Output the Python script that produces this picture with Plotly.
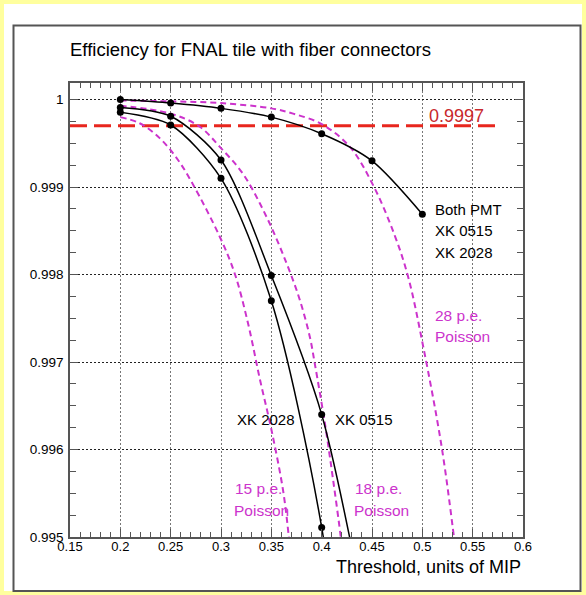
import plotly.graph_objects as go

# ---- data ----
thresholds = [0.20, 0.25, 0.30, 0.35, 0.40, 0.45, 0.50]
eff_both = [1.00000, 0.99996, 0.99990, 0.99980, 0.99961, 0.99930, 0.99869]
thr_single = [0.20, 0.25, 0.30, 0.35, 0.40, 0.45]
eff_xk0515 = [0.99991, 0.99981, 0.99931, 0.99799, 0.99640, 0.99370]
eff_xk2028 = [0.999855, 0.99971, 0.99910, 0.99770, 0.99511, 0.99050]

p15_x = [0.200, 0.2192, 0.2391, 0.2573, 0.2722, 0.2989, 0.3137, 0.3269, 0.3385, 0.3502, 0.3617, 0.3674, 0.3700]
p15_y = [0.99980, 0.99973, 0.99956, 0.99931, 0.99903, 0.99843, 0.99801, 0.99744, 0.99681, 0.99622, 0.99553, 0.99500, 0.99470]
p18_x = [0.200, 0.250, 0.2789, 0.2988, 0.3219, 0.3452, 0.3651, 0.3783, 0.3882, 0.3932, 0.4032, 0.4114, 0.4190, 0.4220]
p18_y = [0.99993, 0.99984, 0.99969, 0.99946, 0.99915, 0.99866, 0.99813, 0.99771, 0.99729, 0.99698, 0.99630, 0.99565, 0.99500, 0.99470]
p28_x = [0.200, 0.250, 0.300, 0.350, 0.3716, 0.400, 0.428, 0.4512, 0.4728, 0.486, 0.501, 0.5192, 0.5314, 0.5340]
p28_y = [0.99999, 0.99998, 0.99996, 0.99990, 0.99984, 0.99972, 0.99946, 0.99902, 0.99844, 0.99797, 0.99717, 0.99603, 0.99500, 0.99475]

ref_level = 0.9997
ref_x = [0.15, 0.577]

x_ticks = [0.15, 0.2, 0.25, 0.3, 0.35, 0.4, 0.45, 0.5, 0.55, 0.6]
x_tick_text = ["0.15", "0.2", "0.25", "0.3", "0.35", "0.4", "0.45", "0.5", "0.55", "0.6"]
y_ticks = [0.995, 0.996, 0.997, 0.998, 0.999, 1.0]
y_tick_text = ["0.995", "0.996", "0.997", "0.998", "0.999", "1"]

FONT = "Liberation Sans, Arial, Helvetica, sans-serif"
MAG = "#cc33cc"
RED = "#e8261e"

fig = go.Figure()

# reference level
fig.add_trace(go.Scatter(x=ref_x, y=[ref_level, ref_level], mode="lines",
                         line=dict(color=RED, width=3, dash="17px,7px"),
                         hoverinfo="skip", showlegend=False))

# Poisson curves
for px_, py_ in [(p15_x, p15_y), (p18_x, p18_y), (p28_x, p28_y)]:
    fig.add_trace(go.Scatter(x=px_, y=py_, mode="lines",
                             line=dict(color=MAG, width=2, dash="6px,4px", shape="spline", smoothing=1.0),
                             showlegend=False))

# measured curves
for xs, ys in [(thresholds, eff_both), (thr_single, eff_xk0515), (thr_single, eff_xk2028)]:
    fig.add_trace(go.Scatter(x=xs, y=ys, mode="lines+markers",
                             line=dict(color="black", width=1.5, shape="spline", smoothing=0.8),
                             marker=dict(color="black", size=7),
                             showlegend=False))

# page decoration (in paper coordinates of the plot area 70..523 x 83..537 px)
def px2paper_x(p):
    return (p - 70) / 453.0

def px2paper_y(p):
    return (537 - p) / 454.0

shapes = [
    dict(type="rect", xref="paper", yref="paper", layer="below",
         x0=px2paper_x(4), x1=px2paper_x(582), y0=px2paper_y(591), y1=px2paper_y(4),
         fillcolor="white", line=dict(width=0)),
    dict(type="rect", xref="paper", yref="paper", layer="below",
         x0=px2paper_x(13.5), x1=px2paper_x(580.5), y0=px2paper_y(591), y1=px2paper_y(25.5),
         fillcolor="white", line=dict(color="#555555", width=2)),
]

ann_font = dict(family=FONT, size=15, color="black")
mag_font = dict(family=FONT, size=15.5, color=MAG)
annotations = [
    dict(x=0.5106, y=0.99874, text="Both PMT", font=ann_font),
    dict(x=0.5106, y=0.99850, text="XK 0515", font=ann_font),
    dict(x=0.5106, y=0.99825, text="XK 2028", font=ann_font),
    dict(x=0.5105, y=0.997535, text="28 p.e.", font=mag_font),
    dict(x=0.5105, y=0.99729, text="Poisson", font=mag_font),
    dict(x=0.3117, y=0.99555, text="15 p.e.", font=mag_font),
    dict(x=0.3107, y=0.99530, text="Poisson", font=mag_font),
    dict(x=0.4313, y=0.99555, text="18 p.e.", font=mag_font),
    dict(x=0.4300, y=0.99530, text="Poisson", font=mag_font),
    dict(x=0.4108, y=0.99634, text="XK 0515", font=ann_font),
    dict(x=0.3756, y=0.99634, text="XK 2028", font=ann_font, xanchor="right"),
    dict(x=0.5050, y=0.99981, text="0.9997", font=dict(family=FONT, size=18, color="#c8282c")),
]
for a in annotations:
    a.setdefault("xanchor", "left")
    a.update(xref="x", yref="y", yanchor="middle", showarrow=False)

# title and axis title as paper annotations
annotations.append(dict(xref="paper", yref="paper", x=px2paper_x(68), y=px2paper_y(50),
                        xanchor="left", yanchor="middle", showarrow=False,
                        text="Efficiency for FNAL tile with fiber connectors",
                        font=dict(family=FONT, size=18.5, color="black")))
annotations.append(dict(xref="paper", yref="paper", x=1.0, y=px2paper_y(567),
                        xanchor="right", yanchor="middle", showarrow=False,
                        text="Threshold, units of MIP",
                        font=dict(family=FONT, size=18, color="black")))

fig.update_layout(
    width=586, height=595,
    margin=dict(l=70, r=63, t=83, b=58),
    paper_bgcolor="#ffff9e",
    plot_bgcolor="white",
    shapes=shapes,
    annotations=annotations,
    font=dict(family=FONT, size=13, color="black"),
    showlegend=False,
)
fig.update_xaxes(
    range=[0.15, 0.6], tickmode="array", tickvals=x_ticks, ticktext=x_tick_text,
    showline=True, linecolor="#555555", linewidth=1.5, mirror="ticks",
    ticks="inside", ticklen=8, tickcolor="#555555", tickwidth=1,
    showgrid=True, gridcolor="#777777", gridwidth=1, griddash="2px,2px",
    minor=dict(dtick=0.01, tick0=0.15, ticks="inside", ticklen=5, tickcolor="#555555", showgrid=False),
    tickfont=dict(family=FONT, size=13, color="black"), zeroline=False,
    ticklabelstandoff=-3,
)
fig.update_yaxes(
    range=[0.995, 1.00019], tickmode="array", tickvals=y_ticks, ticktext=y_tick_text,
    showline=True, linecolor="#555555", linewidth=1.5, mirror="ticks",
    ticks="inside", ticklen=8, tickcolor="#555555", tickwidth=1,
    showgrid=True, gridcolor="#222222", gridwidth=1, griddash="2px,2px",
    minor=dict(dtick=0.00025, tick0=0.995, ticks="inside", ticklen=6, tickcolor="#555555", showgrid=False),
    tickfont=dict(family=FONT, size=13.5, color="black"), zeroline=False,
    ticklabelstandoff=2,
)

fig.write_html("out.html", config={"displayModeBar": False},
               post_script="document.body.style.margin='0';")
